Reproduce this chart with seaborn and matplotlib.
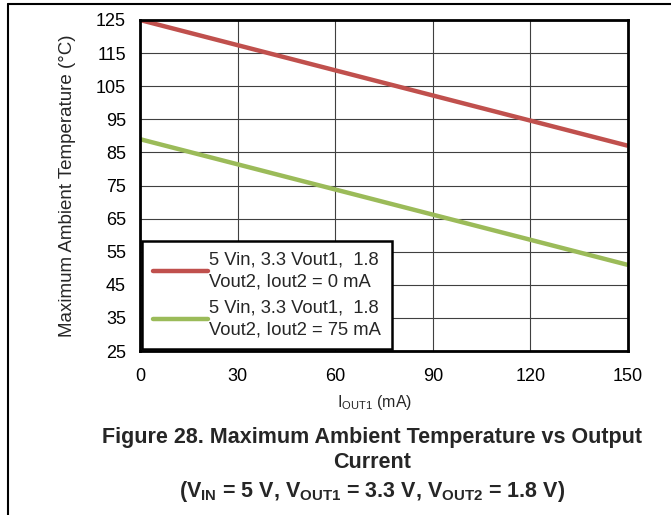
import matplotlib
matplotlib.use("Agg")
import matplotlib.pyplot as plt
import numpy as np
import pandas as pd
import seaborn as sns
from matplotlib.lines import Line2D

# Data
iout1 = [0, 30, 60, 90, 120, 150]
temp_0ma = [125, 117.4, 109.8, 102.2, 94.6, 87]
temp_75ma = [89, 81.4, 73.8, 66.2, 58.6, 51]
series_names = ["5 Vin, 3.3 Vout1,  1.8\nVout2, Iout2 = 0 mA",
                "5 Vin, 3.3 Vout1,  1.8\nVout2, Iout2 = 75 mA"]
x_ticks = [0, 30, 60, 90, 120, 150]
y_ticks = [25, 35, 45, 55, 65, 75, 85, 95, 105, 115, 125]

df = pd.DataFrame({
    "iout1": iout1 * 2,
    "temp": temp_0ma + temp_75ma,
    "series": [series_names[0]] * len(iout1) + [series_names[1]] * len(iout1),
})

sns.set_theme(style="white")
plt.rcParams['font.family'] = ['Liberation Sans', 'DejaVu Sans']
plt.rcParams['mathtext.default'] = 'regular'

W, H = 671, 515
fig = plt.figure(figsize=(W / 100, H / 100), dpi=100)
ax = fig.add_axes([140 / W, (H - 351) / H, 488 / W, 331 / H])

sns.lineplot(data=df, x="iout1", y="temp", hue="series",
             palette=["#C0504D", "#9BBB59"], linewidth=3.2, ax=ax,
             solid_capstyle="butt")

ax.set_xlim(0, 150)
ax.set_ylim(25, 125)
ax.set_xticks(x_ticks)
ax.set_yticks(y_ticks)
ax.tick_params(axis="both", length=0, labelsize=13, colors="black")
ax.tick_params(axis="y", pad=10)
ax.tick_params(axis="x", pad=12)
ax.grid(True, color="#404040", linewidth=0.8)
ax.set_axisbelow(True)
for s in ax.spines.values():
    s.set_visible(True)
    s.set_color("black")
    s.set_linewidth(2)

ax.set_xlabel("")
ax.set_ylabel("Maximum Ambient Temperature (°C)", fontsize=13.5)
ax.yaxis.set_label_coords((76 - 140) / 488, 0.5)

leg = ax.legend(loc="lower left", bbox_to_anchor=(0.0, 0.0), fontsize=13.2,
                frameon=True, fancybox=False, handlelength=3.0,
                handletextpad=0.05, borderpad=0.6, labelspacing=0.5,
                borderaxespad=0.1)
leg.get_frame().set_edgecolor("black")
leg.get_frame().set_linewidth(1.8)
leg.get_frame().set_alpha(1)
for t in leg.get_texts():
    t.set_linespacing(1.35)
for ln in leg.get_lines():
    ln.set_linewidth(3.2)
    ln.set_solid_capstyle("round")

# Axis title and figure caption
fig.text(375 / W, 1 - 402 / H, "$I_{OUT1}$ (mA)", fontsize=11.5,
         ha="center", va="center")
fig.text(372 / W, 1 - 438 / H, "Figure 28. Maximum Ambient Temperature vs Output",
         fontsize=15.5, fontweight="bold", ha="center", va="center")
fig.text(372 / W, 1 - 462 / H, "Current",
         fontsize=15.5, fontweight="bold", ha="center", va="center")
fig.text(372 / W, 1 - 492 / H,
         "($V_{IN}$ = 5 V, $V_{OUT1}$ = 3.3 V, $V_{OUT2}$ = 1.8 V)",
         fontsize=15.5, fontweight="bold", ha="center", va="center")

# page frame lines (top and left)
fig.add_artist(Line2D([8 / W, 1], [1 - 4 / H, 1 - 4 / H], color="black",
                      linewidth=1.5, transform=fig.transFigure))
fig.add_artist(Line2D([8 / W, 8 / W], [0, 1 - 4 / H], color="black",
                      linewidth=1.5, transform=fig.transFigure))

fig.savefig("out.png", dpi=100)
